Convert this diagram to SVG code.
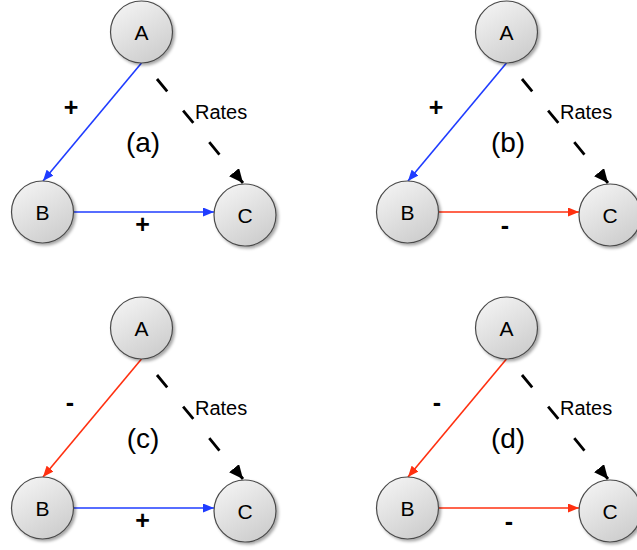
<svg xmlns="http://www.w3.org/2000/svg" width="637" height="550" viewBox="0 0 637 550">
<defs>
<linearGradient id="nodeFill" x1="0" y1="0" x2="0.6" y2="1">
<stop offset="0" stop-color="#f7f7f7"/>
<stop offset="1" stop-color="#cfcfcf"/>
</linearGradient>
<filter id="shadow" x="-20%" y="-20%" width="150%" height="150%">
<feDropShadow dx="2" dy="2" stdDeviation="1.5" flood-color="#000" flood-opacity="0.35"/>
</filter>
<marker id="arrBlue" markerUnits="userSpaceOnUse" markerWidth="11" markerHeight="9" refX="11" refY="4.5" orient="auto">
<path d="M0,0 L11,4.5 L0,9 z" fill="#1f3cff"/>
</marker>
<marker id="arrRed" markerUnits="userSpaceOnUse" markerWidth="11" markerHeight="9" refX="11" refY="4.5" orient="auto">
<path d="M0,0 L11,4.5 L0,9 z" fill="#ff3010"/>
</marker>
<marker id="arrBlack" markerUnits="userSpaceOnUse" markerWidth="14" markerHeight="13" refX="14" refY="6.5" orient="auto">
<path d="M0,0 L14,6.5 L0,13 z" fill="#000"/>
</marker>
</defs>
<style>
.node circle{fill:url(#nodeFill);stroke:#4a4a4a;stroke-width:1.2;filter:url(#shadow)}
.node text{font-family:"Liberation Sans",Arial,sans-serif;font-size:21px;text-anchor:middle;fill:#000}
.pos{stroke:#1f3cff;stroke-width:1.6;fill:none;marker-end:url(#arrBlue)}
.neg{stroke:#ff3010;stroke-width:1.6;fill:none;marker-end:url(#arrRed)}
.rate{stroke:#000;stroke-width:2.8;fill:none;stroke-dasharray:16 25;marker-end:url(#arrBlack)}
.lbl{font-family:"Liberation Sans",Arial,sans-serif;font-size:25px;font-weight:bold;text-anchor:middle;fill:#000}
.rates{font-family:"Liberation Sans",Arial,sans-serif;font-size:20px;fill:#000}
.panel{font-family:"Liberation Sans",Arial,sans-serif;font-size:28px;text-anchor:middle;fill:#000}
</style>

<!-- Panel (a) -->
<g id="panel-a">
<g id="connectors-a">
<line class="pos" x1="141.5" y1="63" x2="43" y2="181"/>
<line class="pos" x1="73.5" y1="212" x2="214" y2="212"/>
<line class="rate" x1="157" y1="79" x2="243" y2="183"/>
</g>
<g id="a-A" class="node"><circle cx="141.5" cy="32" r="31"/><text x="141.5" y="39.5">A</text></g>
<g id="a-B" class="node"><circle cx="42.5" cy="212" r="31"/><text x="42.5" y="219.5">B</text></g>
<g id="a-C" class="node"><circle cx="245" cy="215" r="31"/><text x="245" y="222.5">C</text></g>
<text class="lbl" x="71" y="116">+</text>
<text class="lbl" x="142.5" y="233">+</text>
<text class="rates" x="195" y="119">Rates</text>
<text class="panel" x="143" y="152">(a)</text>
</g>

<!-- Panel (b) -->
<g id="panel-b" transform="translate(365,0)">
<g id="connectors-b">
<line class="pos" x1="141.5" y1="63" x2="43" y2="181"/>
<line class="neg" x1="73.5" y1="212" x2="214" y2="212"/>
<line class="rate" x1="157" y1="79" x2="243" y2="183"/>
</g>
<g id="b-A" class="node"><circle cx="141.5" cy="32" r="31"/><text x="141.5" y="39.5">A</text></g>
<g id="b-B" class="node"><circle cx="42.5" cy="212" r="31"/><text x="42.5" y="219.5">B</text></g>
<g id="b-C" class="node"><circle cx="245" cy="215" r="31"/><text x="245" y="222.5">C</text></g>
<text class="lbl" x="71" y="116">+</text>
<text class="lbl" x="140" y="234">-</text>
<text class="rates" x="195" y="119">Rates</text>
<text class="panel" x="143" y="152">(b)</text>
</g>

<!-- Panel (c) -->
<g id="panel-c" transform="translate(0,296)">
<g id="connectors-c">
<line class="neg" x1="141.5" y1="63" x2="43" y2="181"/>
<line class="pos" x1="73.5" y1="212" x2="214" y2="212"/>
<line class="rate" x1="157" y1="79" x2="243" y2="183"/>
</g>
<g id="c-A" class="node"><circle cx="141.5" cy="32" r="31"/><text x="141.5" y="39.5">A</text></g>
<g id="c-B" class="node"><circle cx="42.5" cy="212" r="31"/><text x="42.5" y="219.5">B</text></g>
<g id="c-C" class="node"><circle cx="245" cy="215" r="31"/><text x="245" y="222.5">C</text></g>
<text class="lbl" x="70" y="115">-</text>
<text class="lbl" x="142.5" y="233">+</text>
<text class="rates" x="195" y="119">Rates</text>
<text class="panel" x="143" y="152">(c)</text>
</g>

<!-- Panel (d) -->
<g id="panel-d" transform="translate(365,296)">
<g id="connectors-d">
<line class="neg" x1="141.5" y1="63" x2="43" y2="181"/>
<line class="neg" x1="73.5" y1="212" x2="214" y2="212"/>
<line class="rate" x1="157" y1="79" x2="243" y2="183"/>
</g>
<g id="d-A" class="node"><circle cx="141.5" cy="32" r="31"/><text x="141.5" y="39.5">A</text></g>
<g id="d-B" class="node"><circle cx="42.5" cy="212" r="31"/><text x="42.5" y="219.5">B</text></g>
<g id="d-C" class="node"><circle cx="245" cy="215" r="31"/><text x="245" y="222.5">C</text></g>
<text class="lbl" x="72" y="115">-</text>
<text class="lbl" x="144" y="234">-</text>
<text class="rates" x="195" y="119">Rates</text>
<text class="panel" x="143" y="152">(d)</text>
</g>
</svg>
